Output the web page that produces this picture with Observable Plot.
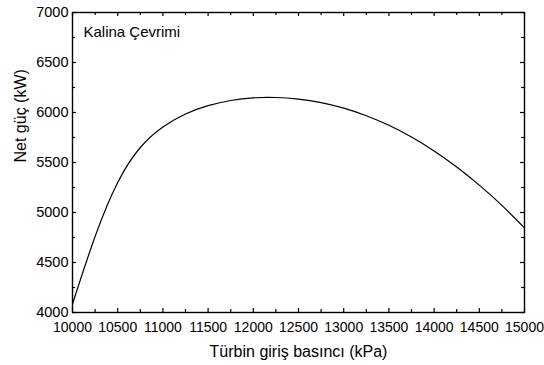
<!DOCTYPE html>
<html>
<head>
<meta charset="utf-8">
<script src="https://cdn.jsdelivr.net/npm/d3@7"></script>
<script src="https://cdn.jsdelivr.net/npm/@observablehq/plot@0.6"></script>
<style>
  html, body { margin: 0; padding: 0; background: #fff; }
  svg { display: block; }
</style>
</head>
<body>
<div id="chart"></div>
<script>
const pressure = [10000, 10250, 10500, 10750, 11000, 11250, 11500, 11750, 12000, 12250, 12500, 12750, 13000, 13250, 13500, 13750, 14000, 14250, 14500, 14750, 15000];
const power    = [4085, 4760, 5300, 5650, 5855, 5985, 6068, 6120, 6147, 6150, 6133, 6098, 6043, 5968, 5872, 5754, 5615, 5455, 5274, 5071, 4846];

const xMajor = [10000, 10500, 11000, 11500, 12000, 12500, 13000, 13500, 14000, 14500, 15000];
const xMinor = [10250, 10750, 11250, 11750, 12250, 12750, 13250, 13750, 14250, 14750];
const yMajor = [4000, 4500, 5000, 5500, 6000, 6500, 7000];
const yMinor = [4250, 4750, 5250, 5750, 6250, 6750];

const xTitle = "Türbin giriş basıncı (kPa)";
const yTitle = "Net güç (kW)";
const seriesLabel = "Kalina Çevrimi";

const data = pressure.map((p, i) => ({p, v: power[i]}));

const W = 544, H = 365;
const mL = 72, mR = 20, mT = 12, mB = 53;
const innerW = W - mL - mR, innerH = H - mT - mB;
const font = "Liberation Sans, Arial, Helvetica, sans-serif";

const chart = Plot.plot({
  width: W,
  height: H,
  marginLeft: mL,
  marginRight: mR,
  marginTop: mT,
  marginBottom: mB,
  style: {fontFamily: font, background: "#fff", color: "#000"},
  x: {domain: [10000, 15000]},
  y: {domain: [4000, 7000]},
  marks: [
    Plot.line(data, {x: "p", y: "v", stroke: "#000", strokeWidth: 1.2, curve: "natural"}),
    Plot.tickX(xMajor, {x: d => d, insetTop: innerH - 4, stroke: "#000", strokeWidth: 1.2}),
    Plot.tickX(xMajor, {x: d => d, insetBottom: innerH - 4, stroke: "#000", strokeWidth: 1.2}),
    Plot.tickX(xMinor, {x: d => d, insetTop: innerH - 3, stroke: "#000", strokeWidth: 1.2}),
    Plot.tickX(xMinor, {x: d => d, insetBottom: innerH - 3, stroke: "#000", strokeWidth: 1.2}),
    Plot.tickY(yMajor, {y: d => d, insetRight: innerW - 4, stroke: "#000", strokeWidth: 1.2}),
    Plot.tickY(yMajor, {y: d => d, insetLeft: innerW - 4, stroke: "#000", strokeWidth: 1.2}),
    Plot.tickY(yMinor, {y: d => d, insetRight: innerW - 3, stroke: "#000", strokeWidth: 1.2}),
    Plot.tickY(yMinor, {y: d => d, insetLeft: innerW - 3, stroke: "#000", strokeWidth: 1.2}),
    Plot.axisX(xMajor, {anchor: "bottom", tickSize: 0, tickPadding: 10, tickFormat: d => String(d), fontSize: 14, label: null, fill: "#000"}),
    Plot.axisY(yMajor, {anchor: "left", tickSize: 0, tickPadding: 4, tickFormat: d => String(d), fontSize: 14.5, label: null, fill: "#000"}),
    Plot.frame({stroke: "#000", strokeWidth: 1.4}),
    Plot.text([seriesLabel], {frameAnchor: "top-left", dx: 11, dy: 14, textAnchor: "start", lineAnchor: "top", fontSize: 15, fill: "#000"}),
    Plot.text([xTitle], {frameAnchor: "bottom", dy: 39, lineAnchor: "middle", fontSize: 16, fill: "#000"}),
    Plot.text([yTitle], {frameAnchor: "left", dx: -52, rotate: -90, lineAnchor: "middle", fontSize: 16, fill: "#000"})
  ]
});

document.getElementById("chart").appendChild(chart);
</script>
</body>
</html>
